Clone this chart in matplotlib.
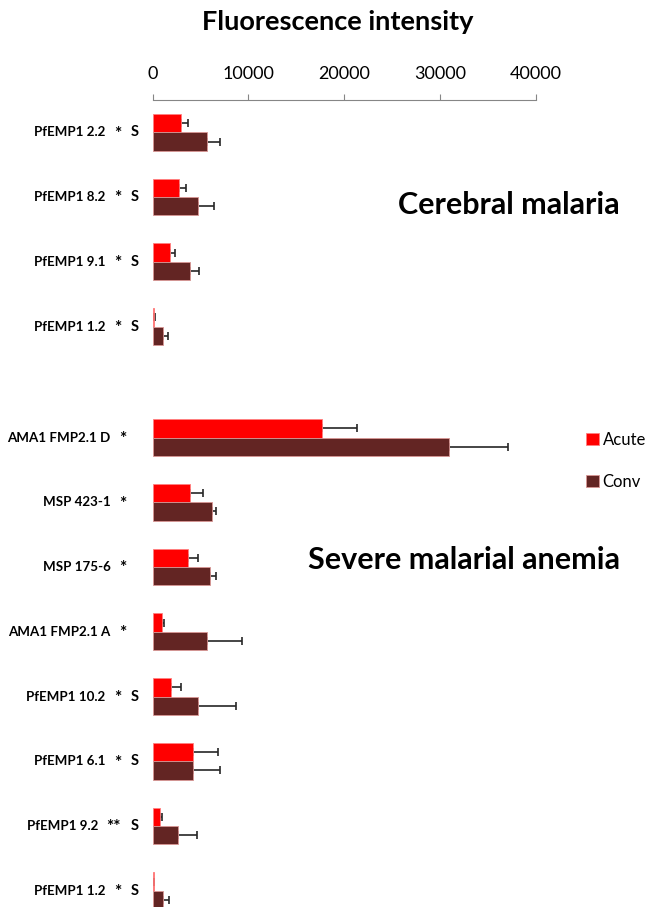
import matplotlib
matplotlib.use("Agg")
import matplotlib.pyplot as plt
import numpy as np

plt.rcParams['font.family'] = ['Lato', 'DejaVu Sans']

# data
names = ['PfEMP1 2.2', 'PfEMP1 8.2', 'PfEMP1 9.1', 'PfEMP1 1.2',
         'AMA1 FMP2.1 D', 'MSP 423-1', 'MSP 175-6', 'AMA1 FMP2.1 A',
         'PfEMP1 10.2', 'PfEMP1 6.1', 'PfEMP1 9.2', 'PfEMP1 1.2']
stars = ['*', '*', '*', '*', '*', '*', '*', '*', '*', '*', '**', '*']
svar = ['S', 'S', 'S', 'S', '', '', '', '', 'S', 'S', 'S', 'S']
acute = [2980, 2730, 1860, 160, 17630, 3870, 3740, 980, 1930, 4260, 780, 120]
acute_top = [3700, 3500, 2320, 290, 21290, 5240, 4770, 1240, 3010, 6800, 1020, 190]
conv = [5700, 4750, 3880, 1060, 30960, 6230, 6010, 5720, 4750, 4260, 2690, 1060]
conv_top = [7050, 6390, 4890, 1650, 37100, 6620, 6580, 9370, 8690, 7080, 4610, 1720]
xticks = [0, 10000, 20000, 30000, 40000]

acute = np.array(acute); conv = np.array(conv)
acute_err = np.array(acute_top) - acute
conv_err = np.array(conv_top) - conv

W, H = 646, 907
fig = plt.figure(figsize=(W / 100, H / 100), dpi=100)
x0, x1, ytop = 152.5, 536.0, 100.0
ax = fig.add_axes([x0 / W, 0, (x1 - x0) / W, (H - ytop) / H])

# category positions: two groups with a gap
pos = np.array([0, 1, 2, 3] + [3 + 1.716 + i for i in range(8)])
h = 0.283
red = '#FF0000'
brown = '#632523'

ax.barh(pos - h / 2, acute, height=h, color=red, edgecolor='#ff8080', lw=0.6, zorder=2, label='Acute')
ax.barh(pos + h / 2, conv, height=h, color=brown, edgecolor='#d99694', lw=0.6, zorder=2, label='Conv')
ax.errorbar(acute, pos - h / 2, xerr=[np.zeros_like(acute_err), acute_err], fmt='none',
            ecolor='#262626', elinewidth=1.2, capsize=2.8, capthick=1.2, zorder=1)
ax.errorbar(conv, pos + h / 2, xerr=[np.zeros_like(conv_err), conv_err], fmt='none',
            ecolor='#262626', elinewidth=1.2, capsize=2.8, capthick=1.2, zorder=1)

ax.set_xlim(0, 40000)
ax.set_ylim(pos[-1] + 0.252, -0.5)
ax.xaxis.tick_top()
ax.set_xticks(xticks)
ax.set_xticklabels([str(t) for t in xticks], fontsize=13)
ax.tick_params(axis='x', direction='out', length=4, color='#868686', pad=9)
ax.set_yticks([])
for s in ['left', 'right', 'bottom']:
    ax.spines[s].set_visible(False)
ax.spines['top'].set_color('#868686')

def fx(px):
    return (px - x0) / (x1 - x0)

tr = ax.get_yaxis_transform()
for i, p in enumerate(pos):
    if svar[i]:
        star_x = 121
        ax.text(fx(135), p, svar[i], transform=tr, ha='center', va='center', fontsize=10.5, fontweight='bold', clip_on=False)
    else:
        star_x = 126.5
    name_x = star_x - 16 - 7 * (len(stars[i]) - 1)
    ax.text(fx(name_x), p, names[i], transform=tr, ha='right', va='center', fontsize=9.6, fontweight='bold', clip_on=False)
    ax.text(fx(star_x), p + 0.02, stars[i], transform=tr, ha='right', va='center', fontsize=12.5, fontweight='bold', clip_on=False)

fig.text(338 / W, 1 - 22 / H, 'Fluorescence intensity', ha='center', va='center', fontsize=19.5, fontweight='bold')
fig.text(620 / W, 1 - 205 / H, 'Cerebral malaria', ha='right', va='center', fontsize=22, fontweight='bold')
fig.text(620 / W, 1 - 560 / H, 'Severe malarial anemia', ha='right', va='center', fontsize=22, fontweight='bold')

fig.legend(loc='center left', bbox_to_anchor=(586 / W, 1 - 461 / H), frameon=False, fontsize=12,
           borderpad=0, borderaxespad=0,
           handlelength=0.75, handleheight=0.75, handletextpad=0.25, labelspacing=1.55)

fig.savefig('out.png', dpi=100)
